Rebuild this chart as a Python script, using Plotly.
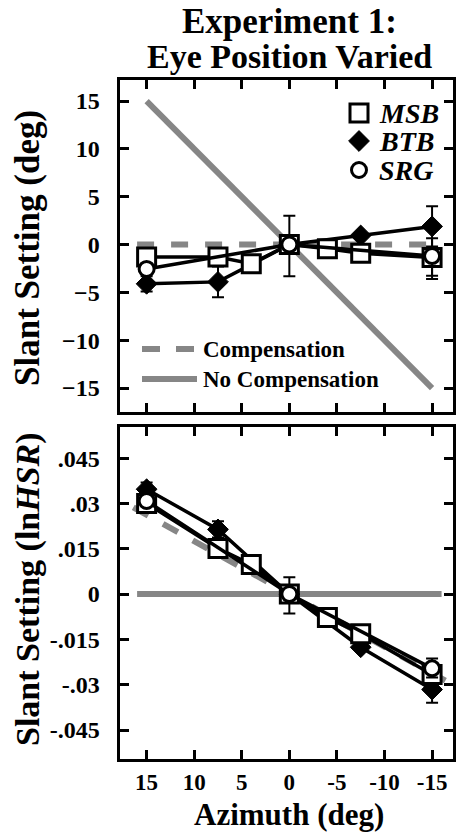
import plotly.graph_objects as go

W, H = 458, 834
FONT = "Liberation Serif"
GRAY = "#868686"

# Azimuths tested for each observer
az_msb = [15, 7.5, 4, 0, -4, -7.5, -15]
az_btb = [15, 7.5, 0, -7.5, -15]
az_srg = [15, 0, -15]

# Slant settings (deg) with error bars (upper / lower)
msb_deg = [-1.3, -1.3, -2.0, 0.0, -0.45, -0.9, -1.35]
msb_deg_hi = [0, 0, 0, 0, 0, 0, 0]
msb_deg_lo = [0, 0, 0, 0, 0, 0, 1.9]
btb_deg = [-4.1, -3.9, 0.0, 0.95, 1.9]
btb_deg_hi = [0.8, 1.6, 0, 0, 2.1]
btb_deg_lo = [0.8, 1.6, 0, 0, 2.1]
srg_deg = [-2.55, 0.0, -1.2]
srg_deg_hi = [0, 3.0, 1.85]
srg_deg_lo = [0, 3.3, 2.4]

# Slant settings (ln HSR) with error bars
msb_ln = [0.0300, 0.0151, 0.0098, 0.0, -0.0078, -0.0131, -0.0266]
btb_ln = [0.0347, 0.0214, 0.0, -0.0176, -0.0316]
btb_ln_err = [0.0022, 0.0027, 0, 0, 0.0044]
srg_ln = [0.0308, 0.0, -0.0246]
srg_ln_hi = [0, 0.0056, 0.0033]
srg_ln_lo = [0, 0.0064, 0.003]

# Predictions: full compensation vs. no compensation for eye position
comp_deg_az = [16, -16]
comp_deg = [0, 0]
nocomp_deg_az = [15, -15]
nocomp_deg = [15, -15]
comp_ln_az = [16.4, -16.4]
comp_ln = [0.0287, -0.0287]
nocomp_ln_az = [16, -16]
nocomp_ln = [0, 0]

# Ticks
az_ticks = [15, 10, 5, 0, -5, -10, -15]
az_ticktext = ["15", "10", "5", "0", "-5", "-10", "-15"]
deg_ticks = [15, 10, 5, 0, -5, -10, -15]
ln_ticks = [0.045, 0.03, 0.015, 0, -0.015, -0.03, -0.045]
ln_ticktext = [".045", ".03", ".015", "0", "-.015", "-.03", "-.045"]

# Legend entries
subjects = ["MSB", "BTB", "SRG"]
prediction_labels = ["Compensation", "No Compensation"]


def px(x):
    return x / W


def py(y):
    return 1 - y / H


fig = go.Figure()

marker_styles = {
    "MSB": dict(symbol="square", size=18, color="white", line=dict(color="black", width=3)),
    "BTB": dict(symbol="diamond", size=16, color="black", line=dict(color="black", width=1)),
    "SRG": dict(symbol="circle", size=15, color="white", line=dict(color="black", width=3)),
}

for xa, ya, caz, cy, naz, ny in [
    ("x", "y", comp_deg_az, comp_deg, nocomp_deg_az, nocomp_deg),
    ("x2", "y2", comp_ln_az, comp_ln, nocomp_ln_az, nocomp_ln),
]:
    fig.add_trace(go.Scatter(x=naz, y=ny, mode="lines", xaxis=xa, yaxis=ya,
                             line=dict(color=GRAY, width=6), showlegend=False,
                             hoverinfo="skip"))
    fig.add_trace(go.Scatter(x=caz, y=cy, mode="lines", xaxis=xa, yaxis=ya,
                             line=dict(color=GRAY, width=6, dash="17px,17px"),
                             showlegend=False, hoverinfo="skip"))

series = [
    ("BTB", az_btb, btb_deg, btb_deg_hi, btb_deg_lo, btb_ln, btb_ln_err, btb_ln_err),
    ("MSB", az_msb, msb_deg, msb_deg_hi, msb_deg_lo, msb_ln, [0] * 7, [0] * 7),
    ("SRG", az_srg, srg_deg, srg_deg_hi, srg_deg_lo, srg_ln, srg_ln_hi, srg_ln_lo),
]
for name, az, dv, dhi, dlo, lv, lhi, llo in series:
    for xa, ya, vals, hi, lo in [("x", "y", dv, dhi, dlo), ("x2", "y2", lv, lhi, llo)]:
        fig.add_trace(go.Scatter(
            x=az, y=vals, mode="lines+markers", xaxis=xa, yaxis=ya, name=name,
            line=dict(color="black", width=3.5),
            marker=marker_styles[name],
            error_y=dict(type="data", array=hi, arrayminus=lo, symmetric=False,
                         color="black", thickness=2, width=6),
            showlegend=False,
        ))

# Observer legend (pixel-placed overlay axis)
leg_y = [113, 141, 170]
for name, yy in zip(subjects, leg_y):
    fig.add_trace(go.Scatter(x=[359], y=[yy], mode="markers", xaxis="x3", yaxis="y3",
                             marker=marker_styles[name], showlegend=False, hoverinfo="skip"))

fig.update_layout(
    width=W, height=H,
    margin=dict(l=0, r=0, t=0, b=0),
    paper_bgcolor="white", plot_bgcolor="rgba(0,0,0,0)",
    font=dict(family=FONT, color="black"),
)

dom_x = [px(119.5), px(453)]
axis_common = dict(showgrid=False, zeroline=False, showline=True, linecolor="black",
                   linewidth=3, ticks="inside", ticklen=9, tickwidth=3, tickcolor="black",
                   mirror="ticks", tickangle=0)
tickfont = dict(family=FONT, size=24, color="black", weight="bold")

fig.update_layout(
    xaxis=dict(domain=dom_x, range=[17.85, -17.2], anchor="y", tickvals=az_ticks,
               showticklabels=False, **axis_common),
    yaxis=dict(domain=[py(412), py(80)], range=[-17.5, 17.2], anchor="x",
               tickvals=deg_ticks, tickfont=tickfont, ticklabelstandoff=12, **axis_common),
    xaxis2=dict(domain=dom_x, range=[17.85, -17.2], anchor="y2", tickvals=az_ticks,
                ticktext=az_ticktext, tickfont=dict(tickfont, size=23), ticklabelstandoff=0,
                ticklabeloverflow="allow", **axis_common),
    yaxis2=dict(domain=[py(759), py(427)], range=[-0.0546, 0.0553], anchor="x2",
                tickvals=ln_ticks, ticktext=ln_ticktext, tickfont=tickfont,
                ticklabelstandoff=12, **axis_common),
    xaxis3=dict(domain=[0, 1], range=[0, W], visible=False, anchor="y3", fixedrange=True),
    yaxis3=dict(domain=[0, 1], range=[H, 0], visible=False, anchor="x3", fixedrange=True),
)

# Prediction legend samples
fig.add_shape(type="line", xref="paper", yref="paper", x0=px(142), x1=px(197),
              y0=py(349), y1=py(349), line=dict(color=GRAY, width=6, dash="18px,16px"))
fig.add_shape(type="line", xref="paper", yref="paper", x0=px(142), x1=px(197),
              y0=py(379), y1=py(379), line=dict(color=GRAY, width=6))

ann = []
bold = dict(family=FONT, color="black", weight="bold")
for text, yy in zip(prediction_labels, [349, 379]):
    ann.append(dict(text=text, x=px(201), y=py(yy), xanchor="left", yanchor="middle",
                    font=dict(size=23, **bold)))
for name, yy in zip(subjects, leg_y):
    ann.append(dict(text=f"<i>{name}</i>", x=px(377), y=py(yy), xanchor="left",
                    yanchor="middle", font=dict(size=28, **bold)))
ann.append(dict(text="Experiment 1:", x=px(289), y=py(22), xanchor="center",
                yanchor="middle", font=dict(size=35, **bold)))
ann.append(dict(text="Eye Position Varied", x=px(289), y=py(56), xanchor="center",
                yanchor="middle", font=dict(size=34, **bold)))
ann.append(dict(text="Slant Setting (deg)", x=px(28), y=py(248), textangle=-90,
                xanchor="center", yanchor="middle", font=dict(size=35, **bold)))
ann.append(dict(text="Slant Setting (ln<i>HSR</i>)", x=px(28), y=py(589), textangle=-90,
                xanchor="center", yanchor="middle", font=dict(size=34, **bold)))
ann.append(dict(text="Azimuth (deg)", x=px(289), y=py(834), xanchor="center",
                yanchor="bottom", font=dict(size=31, **bold)))
for a in ann:
    a.update(xref="paper", yref="paper", showarrow=False)
fig.update_layout(annotations=ann)

fig.write_html("out.html")
